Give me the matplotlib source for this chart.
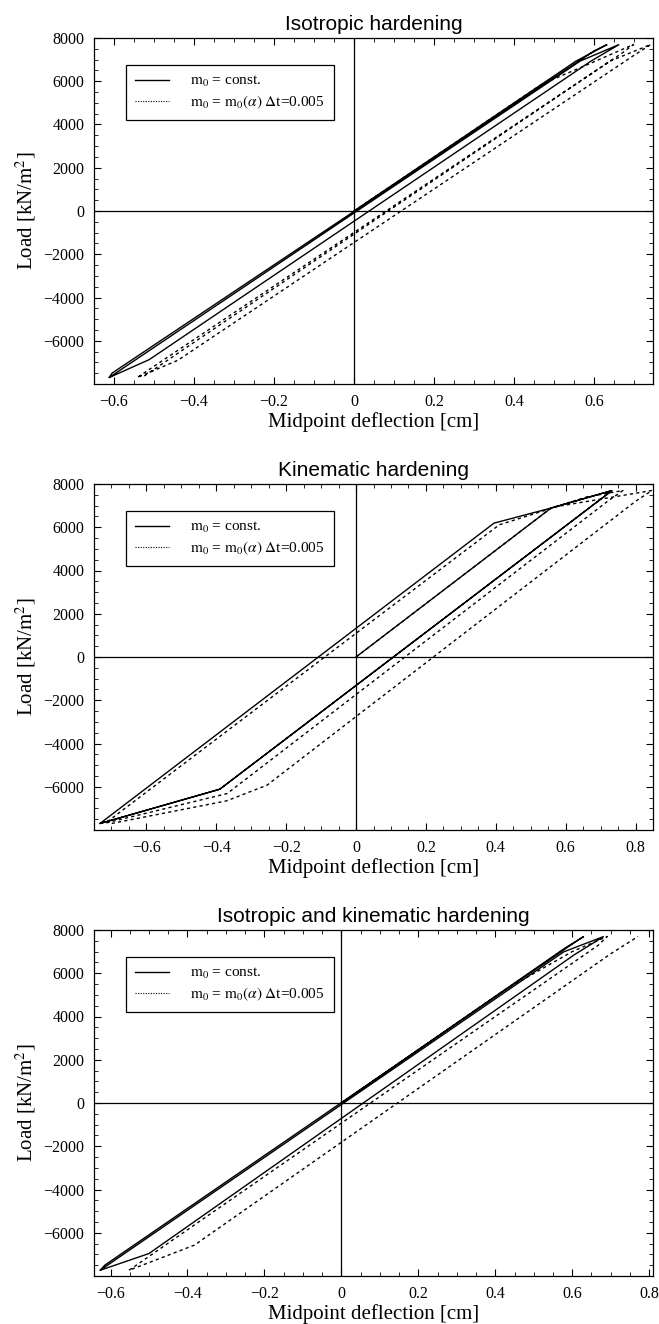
import matplotlib
matplotlib.use("Agg")
import matplotlib.pyplot as plt
from matplotlib.lines import Line2D
from matplotlib.ticker import MultipleLocator, FixedLocator, FuncFormatter

# ---------------- data ----------------
# Isotropic hardening
iso_const_x = [0.0, 0.554, 0.633, 0.600, -0.605, -0.612, -0.512, 0.594, 0.663, 0.565, -0.612]
iso_const_y = [0, 6920, 7700, 7400, -7500, -7700, -6873, 6950, 7700, 6929, -7700]
iso_visc_x = [0.0, 0.470, 0.600, 0.699, 0.670, -0.542, -0.440, 0.700, 0.742, 0.640, -0.530]
iso_visc_y = [0, 5870, 6900, 7700, 7300, -7700, -6900, 7200, 7700, 6930, -7700]

# Kinematic hardening
kin_const_x = [0.0, 0.558, 0.733, -0.390, -0.733, 0.395, 0.558, 0.733, -0.390, -0.733]
kin_const_y = [0, 6886, 7700, -6114, -7700, 6191, 6886, 7700, -6114, -7700]
kin_visc_x = [0.0, 0.558, 0.660, 0.764, 0.720, -0.369, -0.717, 0.410, 0.577, 0.847,
              0.800, -0.255, -0.370, -0.700]
kin_visc_y = [0, 6886, 7400, 7700, 7200, -6315, -7680, 6114, 6964, 7700,
              7200, -5929, -6650, -7700]

# Isotropic and kinematic hardening
ik_const_x = [0.0, 0.580, 0.630, 0.600, -0.615, -0.627, -0.500, 0.605, 0.682, 0.578, -0.627]
ik_const_y = [0, 7150, 7700, 7350, -7500, -7735, -6960, 6850, 7700, 6990, -7735]
ik_visc_x = [0.0, 0.420, 0.600, 0.691, 0.668, -0.552, -0.382, 0.700, 0.771]
ik_visc_y = [0, 5180, 7000, 7700, 7300, -7735, -6572, 6900, 7700]

titles = ["Isotropic hardening", "Kinematic hardening",
          "Isotropic and kinematic hardening"]
xlims = [(-0.65, 0.7475), (-0.75, 0.85), (-0.643, 0.81)]
xticks_list = [[-0.6, -0.4, -0.2, 0.0, 0.2, 0.4, 0.6],
               [-0.6, -0.4, -0.2, 0.0, 0.2, 0.4, 0.6, 0.8],
               [-0.6, -0.4, -0.2, 0.0, 0.2, 0.4, 0.6, 0.8]]
yticks = [-6000, -4000, -2000, 0, 2000, 4000, 6000, 8000]
legend_labels = [r"$\mathrm{m}_0$ = const.",
                 r"$\mathrm{m}_0$ = $\mathrm{m}_0(\alpha)$ $\Delta$t=0.005"]
xlabel = "Midpoint deflection [cm]"
ylabel = r"Load [kN/$\mathrm{m}^2$]"

series = [(iso_const_x, iso_const_y, iso_visc_x, iso_visc_y),
          (kin_const_x, kin_const_y, kin_visc_x, kin_visc_y),
          (ik_const_x, ik_const_y, ik_visc_x, ik_visc_y)]

# ---------------- styling ----------------
plt.rcParams["mathtext.fontset"] = "stix"
plt.rcParams["font.family"] = ["Liberation Serif", "DejaVu Serif"]
plt.rcParams["axes.unicode_minus"] = True

W, H = 659, 1324
fig = plt.figure(figsize=(W / 100, H / 100), dpi=100)

left_px, right_px = 94, 653
tops = [38, 484, 930]
ax_h = 346

DASH = (0, (2.3, 2.3))


def xfmt(v, pos):
    if abs(v) < 1e-9:
        return "0"
    return f"{v:.1f}".replace("-", "\u2212")


def yfmt(v, pos):
    return f"{int(round(v))}".replace("-", "\u2212")


for i in range(3):
    top = tops[i]
    ax = fig.add_axes([left_px / W, (H - top - ax_h) / H,
                       (right_px - left_px) / W, ax_h / H])
    cx, cy, vx, vy = series[i]
    ax.plot(cx, cy, color="black", lw=1.0, solid_joinstyle="miter")
    ax.plot(vx, vy, color="black", lw=1.0, linestyle=DASH)
    ax.axhline(0, color="black", lw=0.9, zorder=0)
    ax.axvline(0, color="black", lw=0.9, zorder=0)

    ax.set_xlim(*xlims[i])
    ax.set_ylim(-8000, 8000)
    ax.xaxis.set_major_locator(FixedLocator(xticks_list[i]))
    ax.xaxis.set_minor_locator(MultipleLocator(0.05))
    ax.yaxis.set_major_locator(FixedLocator(yticks))
    ax.yaxis.set_minor_locator(MultipleLocator(500))
    ax.xaxis.set_major_formatter(FuncFormatter(xfmt))
    ax.yaxis.set_major_formatter(FuncFormatter(yfmt))
    ax.tick_params(which="both", direction="in", top=True, right=True,
                   labelsize=11.5, pad=7, color="black")
    ax.tick_params(which="major", length=5, width=0.8)
    ax.tick_params(which="minor", length=3, width=0.6)
    for sp in ax.spines.values():
        sp.set_linewidth(0.9)
        sp.set_color("black")

    ax.set_title(titles[i], fontfamily=["Liberation Sans", "DejaVu Sans"],
                 fontsize=15, pad=6)
    ax.set_xlabel(xlabel, fontsize=15, labelpad=2)
    ax.set_ylabel(ylabel, fontsize=15, labelpad=4)

    handles = [Line2D([], [], color="black", lw=1.0),
               Line2D([], [], color="black", lw=0.8, linestyle=(0, (1, 1.3)))]
    leg = ax.legend(handles, legend_labels, loc="upper left",
                    bbox_to_anchor=(0.057, 0.922), borderaxespad=0,
                    fontsize=11, frameon=True, fancybox=False,
                    edgecolor="black", framealpha=1, handlelength=2.2,
                    handletextpad=1.4, borderpad=0.6, labelspacing=0.3)
    leg.get_frame().set_linewidth(0.9)

fig.savefig("out.png", dpi=100)
